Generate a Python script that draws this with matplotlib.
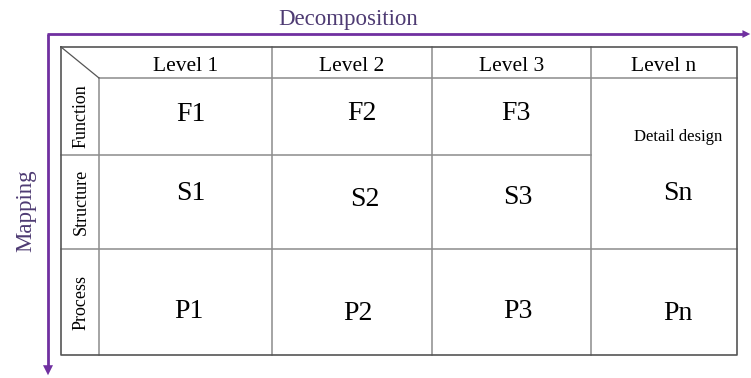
import matplotlib.pyplot as plt
from matplotlib.patches import FancyArrowPatch

plt.rcParams['font.family'] = ['Liberation Serif', 'DejaVu Serif']

# table content
levels = ["Level 1", "Level 2", "Level 3", "Level n"]
aspects = ["Function", "Structure", "Process"]
cells = [["F1", "F2", "F3"],
         ["S1", "S2", "S3", "Sn"],
         ["P1", "P2", "P3", "Pn"]]
merged_note = "Detail design"

# layout in pixels (figure is 751 x 378)
col_edges = [61, 99, 272, 432, 591, 737]
row_edges = [47, 78, 155, 249, 355]
# small offsets of the cell texts as drawn in the original
dx = [[5, 10, 4], [5, 13, 6, 14], [3, 6, 6, 14]]
dy = [[-2, -3, -3], [-8, -3, -4, -9], [9, 11, 9, 11]]

purple = "#7030A0"
text_purple = "#4E3B73"
outer = "#555555"
inner = "#8C8C8C"

fig = plt.figure(figsize=(7.51, 3.78), dpi=100)
ax = fig.add_axes([0, 0, 1, 1])
ax.set_xlim(0, 751)
ax.set_ylim(378, 0)
ax.axis("off")

x0, x1 = col_edges[0], col_edges[-1]
y0, y1 = row_edges[0], row_edges[-1]

# inner grid
for x in col_edges[1:-1]:
    top = row_edges[1] if x == col_edges[1] else y0
    ax.plot([x, x], [top, y1], color=inner, lw=1.1)
ax.plot([col_edges[1], x1], [row_edges[1]] * 2, color=inner, lw=1.1)
ax.plot([x0, col_edges[-2]], [row_edges[2]] * 2, color=inner, lw=1.1)
ax.plot([x0, x1], [row_edges[3]] * 2, color=inner, lw=1.1)
ax.plot([x0, col_edges[1]], [y0, row_edges[1]], color=outer, lw=0.9)

# outer border
ax.plot([x0, x1, x1, x0, x0], [y0, y0, y1, y1, y0], color=outer, lw=1.2)

# headers
for i, lab in enumerate(levels):
    cx = (col_edges[i + 1] + col_edges[i + 2]) / 2
    ax.text(cx, (row_edges[0] + row_edges[1]) / 2 + 4, lab, ha="center",
            va="center", fontsize=15.5)

# row labels
for j, lab in enumerate(aspects):
    cy = (row_edges[j + 1] + row_edges[j + 2]) / 2
    ax.text((col_edges[0] + col_edges[1]) / 2 + 1, cy, lab, rotation=90,
            ha="center", va="center", fontsize=13)

# cell labels
for j, row in enumerate(cells):
    cy = (row_edges[j + 1] + row_edges[j + 2]) / 2
    for i, lab in enumerate(row):
        cx = (col_edges[i + 1] + col_edges[i + 2]) / 2
        ax.text(cx + dx[j][i], cy + dy[j][i], lab, ha="center", va="center",
                fontsize=20)

ax.text(678, 137, merged_note, ha="center", va="center", fontsize=12)

# axes arrows
ax.plot([48, 48], [34, 368], color=purple, lw=2.0, solid_capstyle="butt")
ax.plot([47, 746], [34, 34], color=purple, lw=2.0, solid_capstyle="butt")
ax.add_patch(FancyArrowPatch((48, 360), (48, 378), arrowstyle="-|>",
                             mutation_scale=18, color=purple, lw=0))
ax.add_patch(FancyArrowPatch((740, 34), (753, 34), arrowstyle="-|>",
                             mutation_scale=14, color=purple, lw=0))

ax.text(348, 19, "Decomposition", ha="center", va="center", fontsize=16.5,
        color=text_purple)
ax.text(26, 211, "Mapping", rotation=90, ha="center", va="center",
        fontsize=16.5, color=text_purple)

fig.savefig("out.png", dpi=100)
